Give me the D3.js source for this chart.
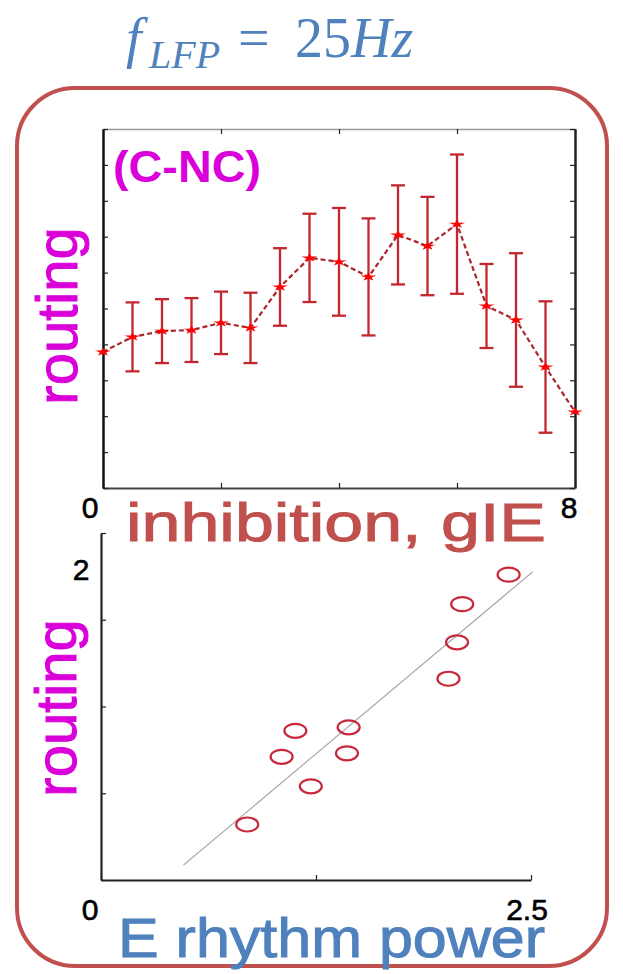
<!DOCTYPE html>
<html>
<head>
<meta charset="utf-8">
<script src="https://cdn.jsdelivr.net/npm/d3@7"></script>
<style>
  body { margin: 0; background: #fff; }
  svg { display: block; font-family: "Liberation Sans", Arial, sans-serif; }
</style>
</head>
<body>
<svg class="chart"></svg>
<script>
const width = 623,
  height = 974,
  boxColor = "#c0504d",
  blue = "#4f81bd",
  magenta = "#d900d9",
  barColor = "#c4262e",
  lineColor = "#a8262c";

// top panel: routing vs inhibition gIE
const gIE = [0, 0.5, 1, 1.5, 2, 2.5, 3, 3.5, 4, 4.5, 5, 5.5, 6, 6.5, 7, 7.5, 8];
const routingMean = [3.79, 4.21, 4.37, 4.40, 4.60, 4.46, 5.60, 6.41, 6.30, 5.88, 7.05, 6.74, 7.35, 5.07, 4.68, 3.37, 2.12];
const routingErr = [0, 0.96, 0.89, 0.89, 0.87, 0.98, 1.08, 1.23, 1.50, 1.63, 1.38, 1.37, 1.94, 1.17, 1.86, 1.83, 0];
const topXTicks = [0, 2, 4, 6, 8];
const topYTicks = [0, 1, 2, 3, 4, 5, 6, 7, 8, 9, 10];

// bottom panel: routing vs E rhythm power
const ePower = [2.37, 2.10, 2.07, 2.02, 1.44, 1.13, 1.05, 1.43, 1.22, 0.85];
const routingScatter = [1.76, 1.59, 1.37, 1.16, 0.88, 0.86, 0.71, 0.73, 0.54, 0.32];
const fitRange = [0.48, 2.51];
const botXTicks = [0, 1.25, 2.5];
const botYTicks = [0, 0.5, 1, 1.5, 2];

const svg = d3.select(".chart")
  .attr("width", width)
  .attr("height", height);

// rounded frame
svg.append("rect")
  .attr("x", 17).attr("y", 88)
  .attr("width", 590).attr("height", 878)
  .attr("rx", 58)
  .attr("fill", "none")
  .attr("stroke", boxColor)
  .attr("stroke-width", 4);

// title f_LFP = 25Hz
let title = svg.append("text")
  .attr("font-family", "'Liberation Serif', 'DejaVu Serif', serif")
  .attr("fill", blue)
  .attr("font-size", 56);
title.append("tspan").attr("x", 126).attr("y", 57).attr("font-style", "italic").text("f");
title.append("tspan").attr("x", 149).attr("y", 68).attr("font-size", 40).attr("font-style", "italic").text("LFP");
title.append("tspan").attr("x", 238).attr("y", 57).text("=");
title.append("tspan").attr("x", 295).attr("y", 57).text("25");
title.append("tspan").attr("font-style", "italic").text("Hz");

// ---------- top panel ----------
const x1 = d3.scaleLinear().domain([0, 8]).range([103, 575]);
const y1 = d3.scaleLinear().domain([0, 10]).range([488, 129]);

const topPanel = svg.append("g");

topPanel.append("g")
  .attr("transform", `translate(0, ${y1(10)})`)
  .call(d3.axisTop(x1).tickValues(topXTicks).tickSize(-5).tickSizeOuter(0).tickFormat(""))
  .call(g => g.select(".domain").attr("stroke", "#999").attr("stroke-width", 1.5));
topPanel.append("g")
  .attr("transform", `translate(0, ${y1(0)})`)
  .call(d3.axisBottom(x1).tickValues(topXTicks).tickSize(-5).tickSizeOuter(0).tickFormat(""))
  .call(g => g.select(".domain").attr("stroke", "#444").attr("stroke-width", 2));
topPanel.append("g")
  .attr("transform", `translate(${x1(0)}, 0)`)
  .call(d3.axisLeft(y1).tickValues(topYTicks).tickSize(-5).tickSizeOuter(0).tickFormat(""))
  .call(g => g.select(".domain").attr("stroke", "#111").attr("stroke-width", 2.5));
topPanel.append("g")
  .attr("transform", `translate(${x1(8)}, 0)`)
  .call(d3.axisRight(y1).tickValues(topYTicks).tickSize(-5).tickSizeOuter(0).tickFormat(""))
  .call(g => g.select(".domain").attr("stroke", "#222").attr("stroke-width", 2.5));
topPanel.selectAll(".tick line").attr("stroke", "#222").attr("stroke-width", 1.2);

const pts = gIE.map((v, i) => ({x: v, y: routingMean[i], e: routingErr[i]}));

topPanel.append("path")
  .datum(pts)
  .attr("fill", "none")
  .attr("stroke", lineColor)
  .attr("stroke-width", 2.2)
  .attr("stroke-dasharray", "5,3")
  .attr("d", d3.line().x(d => x1(d.x)).y(d => y1(d.y)));

const bars = topPanel.append("g").selectAll("g")
  .data(pts.filter(d => d.e > 0))
  .enter().append("g")
  .attr("stroke", barColor)
  .attr("stroke-width", 2.3);
bars.append("line")
  .attr("x1", d => x1(d.x)).attr("x2", d => x1(d.x))
  .attr("y1", d => y1(d.y + d.e)).attr("y2", d => y1(d.y - d.e));
bars.append("line")
  .attr("x1", d => x1(d.x) - 7).attr("x2", d => x1(d.x) + 7)
  .attr("y1", d => y1(d.y + d.e)).attr("y2", d => y1(d.y + d.e));
bars.append("line")
  .attr("x1", d => x1(d.x) - 7).attr("x2", d => x1(d.x) + 7)
  .attr("y1", d => y1(d.y - d.e)).attr("y2", d => y1(d.y - d.e));

topPanel.append("g").selectAll("path")
  .data(pts)
  .enter().append("path")
  .attr("transform", d => `translate(${x1(d.x)}, ${y1(d.y)}) scale(1.5, 0.8)`)
  .attr("d", d3.symbol(d3.symbolStar, 36))
  .attr("fill", "#f00");

topPanel.append("text")
  .attr("x", 113).attr("y", 182)
  .attr("font-size", 44).attr("font-weight", "bold")
  .attr("fill", magenta)
  .attr("textLength", 148).attr("lengthAdjust", "spacingAndGlyphs")
  .text("(C-NC)");

topPanel.append("text")
  .attr("transform", "translate(77, 316) rotate(-90)")
  .attr("text-anchor", "middle")
  .attr("font-size", 58)
  .attr("fill", magenta)
  .attr("stroke", magenta).attr("stroke-width", 1)
  .text("routing");

topPanel.append("text")
  .attr("x", x1(0) - 13).attr("y", 518)
  .attr("font-size", 30).attr("text-anchor", "middle")
  .attr("stroke", "#000").attr("stroke-width", 0.6)
  .text("0");
topPanel.append("text")
  .attr("x", x1(8) - 6).attr("y", 518)
  .attr("font-size", 30).attr("text-anchor", "middle")
  .attr("stroke", "#000").attr("stroke-width", 0.6)
  .text("8");

svg.append("text")
  .attr("x", 126).attr("y", 541)
  .attr("font-size", 54)
  .attr("fill", boxColor)
  .attr("stroke", boxColor).attr("stroke-width", 1)
  .attr("textLength", 420).attr("lengthAdjust", "spacingAndGlyphs")
  .text("inhibition, gIE");

// ---------- bottom panel ----------
const x2 = d3.scaleLinear().domain([0, 2.5]).range([101, 531]);
const y2 = d3.scaleLinear().domain([0, 2]).range([880, 533]);

const botPanel = svg.append("g");

botPanel.append("g")
  .attr("transform", `translate(0, ${y2(0)})`)
  .call(d3.axisBottom(x2).tickValues(botXTicks).tickSize(-5).tickSizeOuter(0).tickFormat(""))
  .call(g => g.select(".domain").attr("stroke", "#222").attr("stroke-width", 2.2));
botPanel.append("g")
  .attr("transform", `translate(${x2(0)}, 0)`)
  .call(d3.axisLeft(y2).tickValues(botYTicks).tickSize(-5).tickSizeOuter(0).tickFormat(""))
  .call(g => g.select(".domain").attr("stroke", "#222").attr("stroke-width", 2.2));
botPanel.selectAll(".tick line").attr("stroke", "#222").attr("stroke-width", 1.2);

// least squares fit through the scatter
const mx = d3.mean(ePower), my = d3.mean(routingScatter);
const slope = d3.sum(ePower, (v, i) => (v - mx) * (routingScatter[i] - my)) /
  d3.sum(ePower, v => (v - mx) * (v - mx));
const fit = fitRange.map(v => [v, my + slope * (v - mx)]);

botPanel.append("path")
  .datum(fit)
  .attr("fill", "none")
  .attr("stroke", "#aaa")
  .attr("stroke-width", 1.2)
  .attr("d", d3.line().x(d => x2(d[0])).y(d => y2(d[1])));

botPanel.append("g").selectAll("ellipse")
  .data(ePower.map((v, i) => [v, routingScatter[i]]))
  .enter().append("ellipse")
  .attr("cx", d => x2(d[0]))
  .attr("cy", d => y2(d[1]))
  .attr("rx", 11).attr("ry", 7)
  .attr("fill", "none")
  .attr("stroke", "#c8283a")
  .attr("stroke-width", 2.2);

botPanel.append("text")
  .attr("transform", "translate(76, 708) rotate(-90)")
  .attr("text-anchor", "middle")
  .attr("font-size", 58)
  .attr("fill", magenta)
  .attr("stroke", magenta).attr("stroke-width", 1)
  .text("routing");

botPanel.append("text")
  .attr("x", 81).attr("y", 580)
  .attr("font-size", 30).attr("text-anchor", "middle")
  .attr("stroke", "#000").attr("stroke-width", 0.6)
  .text("2");
botPanel.append("text")
  .attr("x", x2(0) - 11).attr("y", 920)
  .attr("font-size", 30).attr("text-anchor", "middle")
  .attr("stroke", "#000").attr("stroke-width", 0.6)
  .text("0");
botPanel.append("text")
  .attr("x", x2(2.5) - 4).attr("y", 920)
  .attr("font-size", 30).attr("text-anchor", "middle")
  .attr("stroke", "#000").attr("stroke-width", 0.6)
  .text("2.5");

svg.append("text")
  .attr("x", 118).attr("y", 957)
  .attr("font-size", 56)
  .attr("fill", blue)
  .attr("stroke", blue).attr("stroke-width", 1)
  .attr("textLength", 427).attr("lengthAdjust", "spacingAndGlyphs")
  .text("E rhythm power");
</script>
</body>
</html>
